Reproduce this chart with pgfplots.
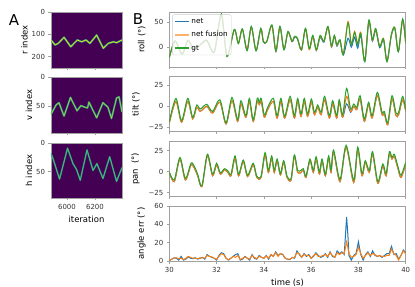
\documentclass[border=0pt]{standalone}
\usepackage{pgfplots}
\usepackage{pgfplotstable}
\pgfplotsset{compat=1.18}
\usepackage{fontspec}
\setmainfont{DejaVu Sans}
\definecolor{cnet}{HTML}{1F77B4}
\definecolor{cfus}{HTML}{FF7F0E}
\definecolor{cgt}{HTML}{2CA02C}
\definecolor{vbg}{HTML}{440154}
\definecolor{vteal}{HTML}{21918C}
\definecolor{vgreen}{HTML}{5EC962}
\definecolor{vyel}{HTML}{D8E219}
\definecolor{spine}{HTML}{A0A0A0}
\definecolor{tlab}{HTML}{333333}

\pgfplotstableread{
t gt fus net
30.00 -21 -20 -21
30.24 13 12 12
30.54 -14 -13 -14
30.79 14 13 14
31.02 -3 -3 -3
31.27 3 3 3
31.58 14 13 14
31.90 -10 -9 -10
32.20 67 66 66
32.44 -19 -17 -18
32.75 36 35 35
32.92 7 8 8
33.09 37 36 36
33.29 -7 -5 -6
33.47 42 40 41
33.67 -7 -6 -7
33.87 38 37 37
33.98 11 12 11
34.12 11 11 11
34.34 45 43 44
34.51 -7 -8 -9
34.68 42 40 41
34.85 -5 -4 -5
35.02 32 30 30
35.19 12 12 11
35.30 22 21 20
35.42 18 18 17
35.59 -5 -6 -6
35.76 38 37 37
35.92 -3 -5 -4
36.07 24 22 22
36.22 -5 -6 -7
36.38 24 22 20
36.54 12 12 10
36.71 42 40 40
36.86 3 1 0
36.98 24 23 22
37.09 5 4 2
37.22 15 14 13
37.36 -15 -14 -16
37.56 49 52 18
37.70 5 6 0
37.84 30 32 20
37.97 5 7 -2
38.10 28 30 24
38.27 -29 -27 -29
38.44 55 53 50
38.59 15 14 12
38.73 38 36 34
38.90 1 2 -1
39.06 17 18 15
39.21 -29 -28 -29
39.39 25 24 23
39.54 40 38 37
39.69 -9 -8 -9
39.87 57 55 55
40.00 8 8 8
}\roll

\pgfplotstableread{
t gt fus net
30.00 -18.3 -20 -20
30.28 9.5 6 6
30.52 -17.1 -19 -19
30.78 9.5 6 6
30.99 -13.1 -15 -15
31.16 1.6 -1 -1
31.31 -3.2 -6 -6
31.58 2.4 0 0
31.83 -6.0 -8 -8
32.14 7.9 5 5
32.40 -19.8 -21 -21
32.65 10.7 7 7
32.89 -15.9 -18 -18
33.03 6.7 3 3
33.24 -11.1 -13 -13
33.39 9.5 6 6
33.55 -15.9 -18 -18
33.72 9.5 6 6
33.81 4.8 2 2
33.89 9.5 6 6
34.02 -10.3 -13 -13
34.16 -1.2 -4 -4
34.40 9.5 6 6
34.56 -11.1 -14 -14
34.72 9.5 6 6
34.88 -11.9 -14 -14
35.11 11.9 8 8
35.29 -11.1 -14 -14
35.43 9.5 6 6
35.57 -9.1 -12 -12
35.71 9.5 6 6
35.85 -9.1 -12 -12
36.01 8.7 5 5
36.14 -7.1 -10 -10
36.28 1.6 -1 -1
36.42 -7.1 -10 -10
36.57 11.9 8 8
36.77 -11.1 -14 -14
36.91 6.7 3 3
37.08 -11.1 -14 -14
37.19 7.9 5 5
37.33 -10.3 -13 -13
37.50 21.4 12 3
37.67 -3.2 -6 -7
37.80 2.8 0 0
37.93 -1.2 -4 -4
38.07 12.7 9 9
38.25 -15.1 -18 -18
38.43 4.8 2 2
38.58 -11.1 -14 -14
38.80 16.7 13 13
39.00 -7.1 -10 -10
39.10 -6.3 -9 -9
39.24 -19.8 -22 -22
39.42 12.7 9 9
39.59 -7.9 -11 -11
39.70 -7.1 -10 -10
39.87 11.9 8 8
40.00 -4.0 -6 -6
}\tilt

\pgfplotstableread{
t gt fus net
30.00 -0.4 -1 -1
30.21 -10.0 -12 -12
30.45 16.9 15 15
30.68 -8.1 -10 -10
30.92 10.0 8 8
31.06 6.2 4 4
31.20 -3.1 -5 -5
31.38 -16.9 -18 -18
31.61 20.8 19 19
31.83 -3.1 -5 -5
32.00 10.0 8 8
32.16 -1.5 -3 -3
32.33 3.5 2 2
32.48 0.8 -1 -1
32.61 -3.1 -5 -5
32.78 18.8 16 16
32.93 -3.1 -5 -5
33.13 13.8 12 12
33.31 -4.2 -6 -6
33.55 10.0 8 8
33.70 -5.4 -7 -7
33.88 -5.4 -7 -7
34.05 22.7 20 20
34.19 1.5 -1 -1
34.33 18.8 16 16
34.44 1.5 -1 -1
34.56 15.0 13 13
34.70 -2.3 -4 -4
34.84 13.1 11 11
34.98 -5.4 -7 -7
35.15 -8.1 -10 -10
35.29 20.0 18 18
35.43 1.5 -1 -1
35.57 1.5 -1 -1
35.67 3.5 2 2
35.78 -5.4 -7 -7
35.95 15.0 13 13
36.09 1.5 -1 -1
36.21 17.7 15 15
36.35 -0.4 -3 -3
36.46 15.0 13 13
36.60 -3.1 -5 -5
36.74 18.8 16 16
36.84 1.5 -1 -1
36.95 25.8 23 23
37.22 -9.2 -12 -12
37.48 31.5 29 29
37.80 -10.0 -13 -13
37.97 29.2 26 26
38.15 -2.3 -5 -5
38.29 13.1 11 11
38.46 1.5 -1 -1
38.60 23.8 21 21
38.82 -11.9 -14 -14
39.03 9.2 7 7
39.17 -2.3 -5 -5
39.31 23.8 21 21
39.42 16.9 15 15
39.52 20.8 18 18
39.66 7.3 5 5
39.80 -4.2 -7 -7
40.00 11.2 9 9
}\pan

\pgfplotstableread{
t net fus
30.0 0.5 0.5
30.1 2 2
30.2 3.5 3
30.3 3 3.5
30.4 1 2.5
30.5 5 3
30.6 1 1.5
30.7 2 3
30.8 4.5 5
30.9 3 4
31.0 2.5 3
31.1 3.5 3
31.2 2 2.5
31.3 3 3.5
31.4 4 3.5
31.5 2 3
31.6 7 6
31.7 5 5
31.8 4 4.5
31.9 3 3
32.0 1 2
32.1 6 5
32.2 9 8
32.3 8 7
32.4 3 3
32.5 1 1.5
32.6 3 3
32.7 5 5
32.8 7 4
32.9 8 6
33.0 1 1.5
33.1 2 3
33.2 5 4.5
33.3 3 3
33.4 1 2
33.5 7 6
33.6 3 4
33.7 2 2.5
33.8 6 5
33.9 4 4
34.0 3 3
34.1 6 5.5
34.2 2 3
34.3 7 7
34.4 5 5
34.5 10 9
34.6 6 5
34.7 8 8
34.8 7 7.5
34.9 3 3
35.0 2 2
35.1 1.5 2
35.2 4 3.5
35.3 3 4
35.4 11 9
35.5 7 8
35.6 4 4
35.7 8 7
35.8 5 6
35.9 7 6
36.0 3 3
36.1 5 6
36.2 9 8
36.3 6 5
36.4 4 5
36.5 5 6
36.6 8 7
36.7 4 5
36.8 10 9
36.9 5 6
37.0 4 4
37.1 11 9
37.2 8 7
37.3 10 9
37.4 7 8
37.5 48 21
37.55 30 15
37.6 6 8
37.7 1 4
37.8 6 5
37.9 8 7
38.0 21 15
38.1 7 8
38.2 1 3
38.3 7 6
38.4 10 9
38.5 5 6
38.6 11 8
38.7 6 7
38.8 5 5
38.9 6 6
39.0 4 5
39.1 6 5
39.2 8 6
39.3 8 6
39.4 16 13
39.5 7 8
39.6 8 6
39.7 2 1
39.8 6 6
39.9 12 11
40.0 9 8
}\err

\pgfplotsset{
  base/.style={
    scale only axis,
    axis line style={spine, line width=0.6bp},
    tick style={spine, line width=0.6bp},
    tick align=outside,
    major tick length=2.5bp,
    tick pos=left,
    /pgf/number format/assume math mode=true,
    /pgf/number format/1000 sep={},
    tick label style={font=\fontsize{7}{8}\selectfont, color=tlab},
    label style={font=\fontsize{8.5}{10}\selectfont},
  },
  Bax/.style={base, width=236.4bp, height=55bp, xmin=30, xmax=40, xtick={30,32,...,40},
    ylabel shift=2bp},
  Hax/.style={base, width=71bp, xmin=5886, xmax=6393, xtick={6000,6200}, y dir=reverse,
    axis background/.style={fill=vbg}, ylabel shift=-3bp},
  pl/.style={line width=1.0bp, smooth},
}

\begin{document}
\begin{tikzpicture}[x=1bp,y=1bp]
\path[use as bounding box] (0,0) rectangle (415,287);

% ---------- Panel A ----------
\begin{axis}[Hax, at={(51bp,219bp)}, anchor=south west, height=56bp,
  ymin=0, ymax=250, ytick={0,100,200}, xticklabels={}, ylabel={r index}]
\addplot[vteal, line width=1.9bp, line join=round] coordinates {
(5886,125) (5915,147) (5938,140) (5979,113) (6027,155) (6074,125) (6105,133) (6136,125) (6164,140) (6212,103) (6259,162) (6295,140) (6331,133) (6355,137) (6393,125)};
\addplot[vyel, line width=0.8bp, line join=round] coordinates {
(5886,125) (5915,147) (5938,140) (5979,113) (6027,155) (6074,125) (6105,133) (6136,125) (6164,140) (6212,103) (6259,162) (6295,140) (6331,133) (6355,137) (6393,125)};
\end{axis}

\begin{axis}[Hax, at={(51bp,154bp)}, anchor=south west, height=56bp,
  ymin=0, ymax=96, ytick={0,50}, xticklabels={}, ylabel={v index}]
\addplot[vteal, line width=1.8bp, line join=round] coordinates {
(5886,64) (5922,48) (5943,44) (5979,67) (6025,35) (6072,58) (6100,49) (6129,52) (6147,53) (6157,43) (6212,70) (6257,44) (6293,52) (6318,71) (6354,36) (6372,34) (6393,60)};
\addplot[vgreen!50!vyel, line width=0.7bp, line join=round] coordinates {
(5886,64) (5922,48) (5943,44) (5979,67) (6025,35) (6072,58) (6100,49) (6129,52) (6147,53) (6157,43) (6212,70) (6257,44) (6293,52) (6318,71) (6354,36) (6372,34) (6393,60)};
\end{axis}

\begin{axis}[Hax, at={(51bp,89bp)}, anchor=south west, height=55bp,
  ymin=0, ymax=96, ytick={0,50}, ylabel={h index}, xlabel={iteration}]
\addplot[vteal, line width=1.5bp, line join=round] coordinates {
(5886,18) (5900,27) (5947,63) (6004,9) (6043,36) (6068,46) (6095,65) (6143,12) (6186,48) (6214,36) (6257,62) (6305,24) (6354,67) (6393,43)};
\addplot[vgreen!80!vteal, line width=0.6bp, line join=round] coordinates {
(5886,18) (5900,27) (5947,63) (6004,9) (6043,36) (6068,46) (6095,65) (6143,12) (6186,48) (6214,36) (6257,62) (6305,24) (6354,67) (6393,43)};
\end{axis}

% ---------- Panel B ----------
\begin{axis}[Bax, at={(169.3bp,220bp)}, anchor=south west,
  ymin=-40, ymax=71, ytick={0,50}, xticklabels={}, ylabel={roll (°)},
  legend style={at={(0.012,0.955)}, anchor=north west, fill=white, fill opacity=0.8,
    text opacity=1, draw opacity=1, draw=white!80!black, rounded corners=2bp,
    font=\fontsize{7.3}{8.5}\selectfont, inner sep=1.5bp, row sep=2.6bp},
  legend cell align=left,
  legend image code/.code={\draw[#1] (0bp,0bp) -- (14bp,0bp);}]
\addlegendimage{draw=cnet, line width=1.6bp}
\addlegendentry{net}
\addlegendimage{draw=cfus!60, line width=1.6bp}
\addlegendentry{net fusion}
\addlegendimage{draw=cgt, line width=1.6bp}
\addlegendentry{gt}
\addplot[cnet, pl, forget plot] table[x=t, y=net] {\roll};
\addplot[cfus, pl, forget plot] table[x=t, y=fus] {\roll};
\addplot[cgt, pl, forget plot] table[x=t, y=gt] {\roll};
\end{axis}

\begin{axis}[Bax, at={(169.3bp,155.3bp)}, anchor=south west,
  ymin=-30.3, ymax=35.4, ytick={-25,0,25}, yticklabels={−25,0,25},
  xticklabels={}, ylabel={tilt (°)}]
\addplot[cnet, pl] table[x=t, y=net] {\tilt};
\addplot[cfus, pl] table[x=t, y=fus] {\tilt};
\addplot[cgt, pl] table[x=t, y=gt] {\tilt};
\end{axis}

\begin{axis}[Bax, at={(169.3bp,90.7bp)}, anchor=south west,
  ymin=-29.5, ymax=36.2, ytick={-25,0,25}, yticklabels={−25,0,25},
  xticklabels={}, ylabel={pan~~(°)}]
\addplot[cnet, pl] table[x=t, y=net] {\pan};
\addplot[cfus, pl] table[x=t, y=fus] {\pan};
\addplot[cgt, pl] table[x=t, y=gt] {\pan};
\end{axis}

\begin{axis}[Bax, at={(169.3bp,26bp)}, anchor=south west,
  ymin=0, ymax=60, ytick={0,20,40,60}, ylabel={angle err (°)}, xlabel={time (s)}]
\addplot[cnet, line width=1.0bp] table[x=t, y=net] {\err};
\addplot[cfus, line width=1.0bp] table[x=t, y=fus] {\err};
\end{axis}

\node[font=\fontsize{15}{18}\selectfont] at (14,267) {A};
\node[font=\fontsize{15}{18}\selectfont] at (138,268) {B};
\end{tikzpicture}
\end{document}
